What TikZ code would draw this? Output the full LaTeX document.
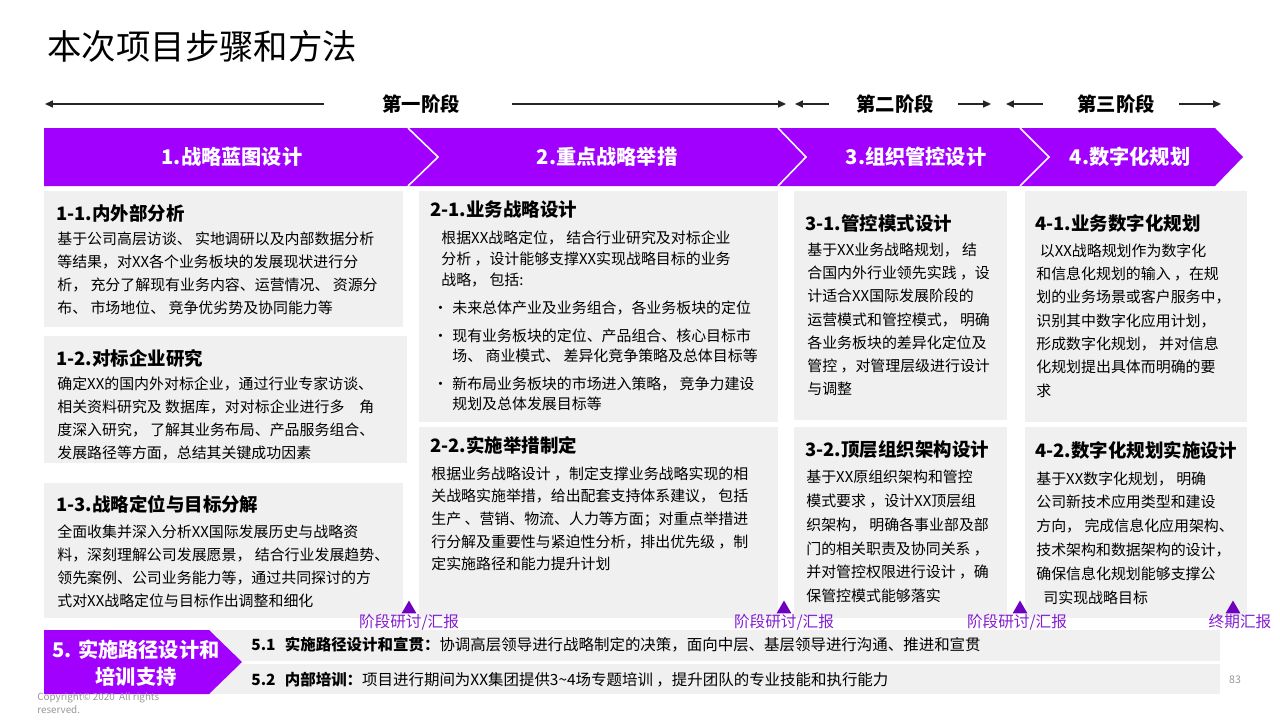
\documentclass[tikz,border=0pt]{standalone}
\usepackage{fontspec}
\setmainfont{Noto Sans CJK SC}
\usepackage{xcolor}
\definecolor{mlviolet}{RGB}{161,0,255}
\definecolor{mldeep}{RGB}{112,0,192}
\definecolor{mllabel}{RGB}{130,30,210}
\definecolor{mlpanel}{RGB}{240,240,240}
\definecolor{mlgray}{RGB}{150,150,150}
\usetikzlibrary{arrows.meta,positioning,shapes.geometric,calc}

\begin{document}
\begin{tikzpicture}[x=0.02cm,y=-0.02cm,>={Triangle[length=4.5pt,width=4pt]},
  panel/.style={fill=mlpanel},
  headtxt/.style={anchor=west,inner sep=0,font=\fontsize{10.5}{12}\selectfont\bfseries},
  bodytxt/.style={anchor=north west,inner sep=0,align=left,font=\fontsize{8.5}{13.2}\selectfont},
  phasetxt/.style={inner sep=0,font=\fontsize{11}{13}\selectfont\bfseries},
  phasearrow/.style={->,line width=0.8pt,black!85},
  chevtxt/.style={text=white,inner sep=0,font=\fontsize{11.5}{13}\selectfont\bfseries},
  sep/.style={white,line width=0.9pt},
  milestone/.style={regular polygon,regular polygon sides=3,fill=mldeep,inner sep=0,minimum size=0.34cm},
  mslabel/.style={text=mllabel,inner sep=0,font=\fontsize{8.9}{10}\selectfont},
  rowtxt/.style={anchor=west,inner sep=0,font=\fontsize{8.8}{10}\selectfont}]
  \useasboundingbox (0,0) rectangle (1280,720);
  %% Title
  \node[anchor=west,inner sep=0,font=\fontsize{19.6}{22}\selectfont] (title) at (47,46) {本次项目步骤和方法};
  %% Phases
  \node[phasetxt] (ph1) at (421,104) {第一阶段};
  \node[phasetxt] (ph2) at (895,104) {第二阶段};
  \node[phasetxt] (ph3) at (1116,104) {第三阶段};
  \coordinate (ph1a) at (324,104); \coordinate (ph1b) at (45,104);
  \coordinate (ph1c) at (512,104); \coordinate (ph1d) at (786,104);
  \coordinate (ph2a) at (829,104); \coordinate (ph2b) at (795,104);
  \coordinate (ph2c) at (958,104); \coordinate (ph2d) at (991,104);
  \coordinate (ph3a) at (1043,104); \coordinate (ph3b) at (1006,104);
  \coordinate (ph3c) at (1179,104); \coordinate (ph3d) at (1221,104);
  \draw[phasearrow] (ph1a) -- (ph1b);
  \draw[phasearrow] (ph1c) -- (ph1d);
  \draw[phasearrow] (ph2a) -- (ph2b);
  \draw[phasearrow] (ph2c) -- (ph2d);
  \draw[phasearrow] (ph3a) -- (ph3b);
  \draw[phasearrow] (ph3c) -- (ph3d);
  %% Chevron bar
  \fill[mlviolet] (44,128) -- (1215,128) -- (1243,157) -- (1215,186) -- (44,186) -- cycle;
  \draw[sep] (408,128) -- (438,157) -- (408,186);
  \draw[sep] (778,128) -- (806,157) -- (778,186);
  \draw[sep] (1020,128) -- (1049,157) -- (1020,186);
  \node[chevtxt] (c1) at (232,157) {1.战略蓝图设计};
  \node[chevtxt] (c2) at (607,157) {2.重点战略举措};
  \node[chevtxt] (c3) at (916,157) {3.组织管控设计};
  \node[chevtxt] (c4) at (1130,157) {4.数字化规划};
  %% Panels
  \fill[panel] (44,191) rectangle (403,327);
  \fill[panel] (44,336) rectangle (407,463);
  \fill[panel] (44,483) rectangle (403,618);
  \fill[panel] (419,191) rectangle (778,422);
  \fill[panel] (419,427) rectangle (778,618);
  \fill[panel] (794,191) rectangle (1007,420);
  \fill[panel] (794,427) rectangle (1007,618);
  \fill[panel] (1025,191) rectangle (1247,422);
  \fill[panel] (1025,427) rectangle (1247,618);
  %% Column 1
  \node[headtxt] (h11) at (56,213) {1-1.内外部分析};
  \node[bodytxt] (t11) at (57,231) {基于公司高层访谈、 实地调研以及内部数据分析\\等结果，对XX各个业务板块的发展现状进行分\\析， 充分了解现有业务内容、运营情况、 资源分\\布、 市场地位、 竞争优劣势及协同能力等};
  \node[headtxt] (h12) at (56,358) {1-2.对标企业研究};
  \node[bodytxt] (t12) at (57,376) {确定XX的国内外对标企业，通过行业专家访谈、\\相关资料研究及 数据库，对对标企业进行多\quad 角\\度深入研究， 了解其业务布局、产品服务组合、\\发展路径等方面，总结其关键成功因素};
  \node[headtxt] (h13) at (56,504) {1-3.战略定位与目标分解};
  \node[bodytxt] (t13) at (57,524) {全面收集并深入分析XX国际发展历史与战略资\\料，深刻理解公司发展愿景， 结合行业发展趋势、\\领先案例、公司业务能力等，通过共同探讨的方\\式对XX战略定位与目标作出调整和细化};
  %% Column 2
  \node[headtxt] (h21) at (430,210) {2-1.业务战略设计};
  \node[bodytxt,font=\fontsize{8.5}{12.2}\selectfont] (t21) at (441,230) {根据XX战略定位， 结合行业研究及对标企业\\分析 ，设计能够支撑XX实现战略目标的业务\\战略， 包括:};
  \node[bodytxt,font=\fontsize{8.5}{11.4}\selectfont] (t21a) at (452,300) {\leavevmode\llap{•\hspace{2.5pt}}未来总体产业及业务组合，各业务板块的定位};
  \node[bodytxt,font=\fontsize{8.5}{11.4}\selectfont] (t21b) at (452,328) {\leavevmode\llap{•\hspace{2.5pt}}现有业务板块的定位、产品组合、核心目标市\\场、 商业模式、 差异化竞争策略及总体目标等};
  \node[bodytxt,font=\fontsize{8.5}{11.4}\selectfont] (t21c) at (452,376) {\leavevmode\llap{•\hspace{2.5pt}}新布局业务板块的市场进入策略， 竞争力建设\\规划及总体发展目标等};
  \node[headtxt] (h22) at (430,445) {2-2.实施举措制定};
  \node[bodytxt,font=\fontsize{8.5}{12.9}\selectfont] (t22) at (431,466) {根据业务战略设计 ，制定支撑业务战略实现的相\\关战略实施举措，给出配套支持体系建议， 包括\\生产 、营销、物流、人力等方面；对重点举措进\\行分解及重要性与紧迫性分析，排出优先级 ，制\\定实施路径和能力提升计划};
  %% Column 3
  \node[headtxt] (h31) at (805,223) {3-1.管控模式设计};
  \node[bodytxt,font=\fontsize{8.5}{13.1}\selectfont] (t31) at (807,243) {基于XX业务战略规划， 结\\合国内外行业领先实践 ，设\\计适合XX国际发展阶段的\\运营模式和管控模式， 明确\\各业务板块的差异化定位及\\管控 ，对管理层级进行设计\\与调整};
  \node[headtxt] (h32) at (805,450) {3-2.顶层组织架构设计};
  \node[bodytxt,font=\fontsize{8.5}{13.5}\selectfont] (t32) at (806,470) {基于XX原组织架构和管控\\模式要求 ，设计XX顶层组\\织架构， 明确各事业部及部\\门的相关职责及协同关系 ，\\并对管控权限进行设计 ，确\\保管控模式能够落实};
  %% Column 4
  \node[headtxt] (h41) at (1035,223) {4-1.业务数字化规划};
  \node[bodytxt,font=\fontsize{8.5}{13.3}\selectfont] (t41) at (1036,243) {\hspace*{2pt}以XX战略规划作为数字化\\和信息化规划的输入 ，在规\\划的业务场景或客户服务中，\\识别其中数字化应用计划，\\形成数字化规划， 并对信息\\化规划提出具体而明确的要\\求};
  \node[headtxt] (h42) at (1035,450) {4-2.数字化规划实施设计};
  \node[bodytxt,font=\fontsize{8.5}{13.6}\selectfont] (t42) at (1036,471) {基于XX数字化规划， 明确\\公司新技术应用类型和建设\\方向， 完成信息化应用架构、\\技术架构和数据架构的设计，\\确保信息化规划能够支撑公\\\hspace*{4pt}司实现战略目标};
  %% Milestones
  \node[milestone] (m1) at (409,609) {};
  \node[milestone] (m2) at (784,609) {};
  \node[milestone] (m3) at (1020,609) {};
  \node[milestone] (m4) at (1233,609) {};
  \node[mslabel] (l1) at (409,622) {阶段研讨/汇报};
  \node[mslabel] (l2) at (784,622) {阶段研讨/汇报};
  \node[mslabel] (l3) at (1017,622) {阶段研讨/汇报};
  \node[mslabel] (l4) at (1240,622) {终期汇报};
  %% Bottom rows
  \fill[panel] (200,630) rectangle (1220,661);
  \fill[panel] (200,664) rectangle (1220,694);
  \fill[mlviolet] (44,630) -- (209,630) -- (242,662) -- (209,694) -- (44,694) -- cycle;
  \node[chevtxt,align=center,font=\fontsize{11.5}{15.3}\selectfont\bfseries] (s5) at (136,663) {5. 实施路径设计和\\培训支持};
  \node[rowtxt] (r1) at (251,645) {\textbf{5.1\hspace{0.6em}实施路径设计和宣贯：}协调高层领导进行战略制定的决策，面向中层、基层领导进行沟通、推进和宣贯};
  \node[rowtxt] (r2) at (251,680) {\textbf{5.2\hspace{0.6em}内部培训：}项目进行期间为XX集团提供3\textasciitilde4场专题培训 ，提升团队的专业技能和执行能力};
  %% Footer
  \node[anchor=west,inner sep=0,align=left,text=mlgray,font=\fontsize{5.6}{7.4}\selectfont] (copy) at (37,703) {Copyright© 2020\ \ All rights\\reserved.};
  \node[inner sep=0,text=mlgray,font=\fontsize{6}{7}\selectfont] (pg) at (1235,680) {83};
\end{tikzpicture}
\end{document}
